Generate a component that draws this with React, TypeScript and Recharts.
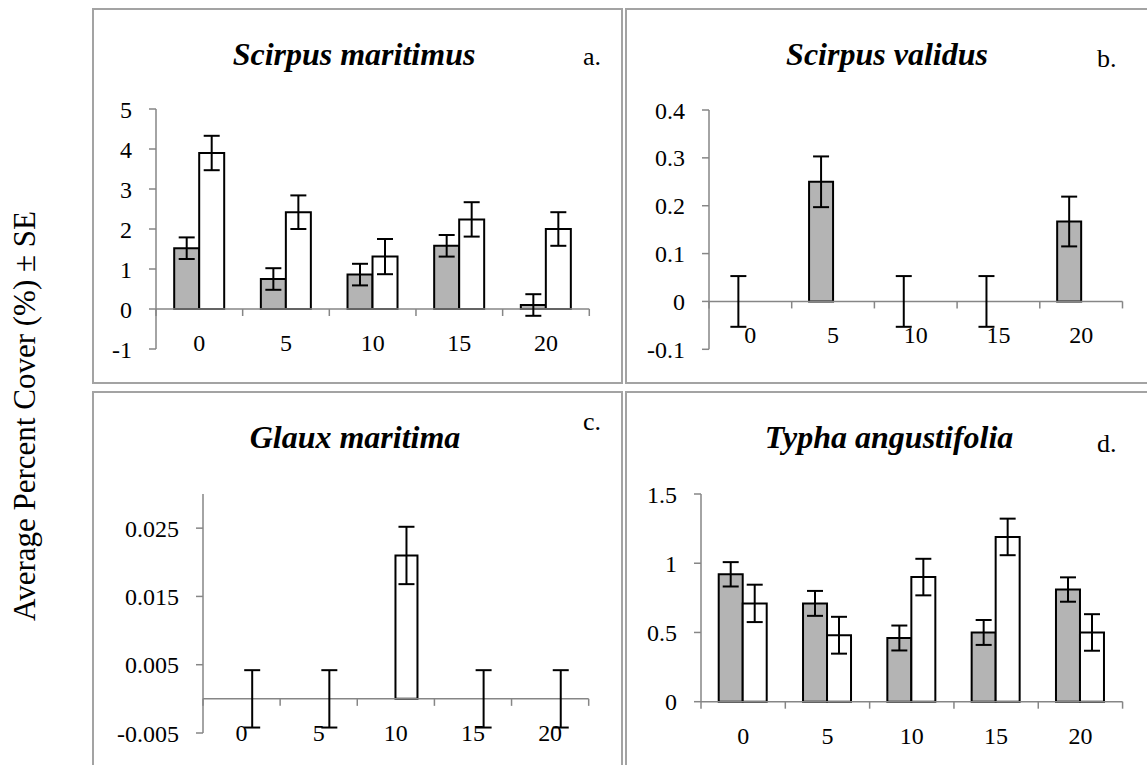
import { BarChart, Bar, XAxis, YAxis, ErrorBar, ReferenceLine, Rectangle } from 'recharts';

// distance classes shared by all four panels
const distances = ['0', '5', '10', '15', '20'];

// a. Scirpus maritimus
const maritimusGray = [1.52, 0.75, 0.86, 1.58, 0.1];
const maritimusGraySE = [0.27, 0.27, 0.27, 0.27, 0.27];
const maritimusWhite = [3.9, 2.42, 1.31, 2.24, 2.0];
const maritimusWhiteSE = [0.43, 0.42, 0.44, 0.43, 0.42];
const maritimusTicks = [-1, 0, 1, 2, 3, 4, 5];

// b. Scirpus validus
const validusGray = [0, 0.25, 0, 0, 0.167];
const validusGraySE = [0.053, 0.053, 0.053, 0.053, 0.052];
const validusWhite = [0, 0, 0, 0, 0];
const validusWhiteSE = [0, 0, 0, 0, 0];
const validusTicks = [-0.1, 0, 0.1, 0.2, 0.3, 0.4];

// c. Glaux maritima
const glauxGray = [0, 0, 0, 0, 0];
const glauxGraySE = [0, 0, 0, 0, 0];
const glauxWhite = [0, 0, 0.021, 0, 0];
const glauxWhiteSE = [0.0042, 0.0042, 0.0042, 0.0042, 0.0042];
const glauxTicks = [-0.005, 0.005, 0.015, 0.025];

// d. Typha angustifolia
const typhaGray = [0.92, 0.71, 0.46, 0.5, 0.81];
const typhaGraySE = [0.088, 0.09, 0.09, 0.09, 0.088];
const typhaWhite = [0.71, 0.48, 0.9, 1.19, 0.5];
const typhaWhiteSE = [0.135, 0.133, 0.132, 0.132, 0.132];
const typhaTicks = [0, 0.5, 1, 1.5];

const FONT = "'Liberation Serif', 'Times New Roman', Times, serif";
const AXIS = '#868686';
const GRAY = '#b4b4b4';
const BORDER = '#a3a3a3';

const YW = 110;
const MT = 20;
const MR = 10;
const MB = 60;

const rowsOf = (gray: number[], graySE: number[], white: number[], whiteSE: number[]) =>
  distances.map((d, i) => ({ d, gray: gray[i], grayErr: graySE[i], white: white[i], whiteErr: whiteSE[i] }));

interface Box {
  left: number;
  top: number;
  width: number;
  height: number;
}

interface PanelProps {
  rows: ReturnType<typeof rowsOf>;
  ticks: number[];
  domain: [number, number];
  box: Box;
  grayCap: string;
  whiteCap: string;
}

const tickText = { fontFamily: FONT, fontSize: 24, fill: '#000' };

const renderYTick = (props: any) => {
  const { x, y, payload } = props;
  return (
    <text x={x} y={y} dy="0.36em" textAnchor="end" style={tickText}>
      {payload.value}
    </text>
  );
};

// zero bars are kept (minPointSize) so their error bars are drawn, but the rect itself is hidden
const barShape = (key: 'gray' | 'white') => (props: any) =>
  props.payload[key] === 0 ? <g /> : <Rectangle {...props} />;

function Panel({ rows, ticks, domain, box, grayCap, whiteCap }: PanelProps) {
  const [min, max] = domain;
  const catW = box.width / rows.length;

  // excel style category axis: sits on the zero line, tick marks between categories
  const renderXTick = (props: any) => {
    const { x, y, payload, index } = props;
    const zeroY = y - ((0 - min) / (max - min)) * box.height;
    return (
      <g>
        <line x1={x - catW / 2} y1={zeroY} x2={x - catW / 2} y2={zeroY + 7} stroke={AXIS} strokeWidth={1.5} />
        {index === rows.length - 1 && (
          <line x1={x + catW / 2} y1={zeroY} x2={x + catW / 2} y2={zeroY + 7} stroke={AXIS} strokeWidth={1.5} />
        )}
        <text x={x} y={zeroY + 42} textAnchor="middle" style={tickText}>
          {payload.value}
        </text>
      </g>
    );
  };

  return (
    <div style={{ position: 'absolute', left: box.left - YW, top: box.top - MT, fontFamily: FONT }}>
      <BarChart
        width={YW + box.width + MR}
        height={MT + box.height + 1 + MB}
        data={rows}
        margin={{ top: MT, right: MR, bottom: MB, left: 0 }}
        barCategoryGap="21%"
        barGap={0}
      >
        <YAxis
          type="number"
          domain={domain}
          ticks={ticks}
          interval={0}
          width={YW}
          axisLine={{ stroke: AXIS, strokeWidth: 1.5 }}
          tickLine={{ stroke: AXIS, strokeWidth: 1.5 }}
          tickSize={7}
          tickMargin={17}
          tick={renderYTick}
        />
        <XAxis
          dataKey="d"
          height={1}
          axisLine={false}
          tickLine={false}
          tickSize={0}
          tickMargin={0}
          interval={0}
          tick={renderXTick}
        />
        <ReferenceLine y={0} stroke={AXIS} strokeWidth={1.5} />
        <Bar
          dataKey="gray"
          fill={GRAY}
          stroke="#000"
          strokeWidth={2}
          minPointSize={1}
          shape={barShape('gray')}
          isAnimationActive={false}
        >
          <ErrorBar dataKey="grayErr" width={8} stroke={grayCap} strokeWidth={2} isAnimationActive={false} />
        </Bar>
        <Bar
          dataKey="white"
          fill="#fff"
          stroke="#000"
          strokeWidth={2}
          minPointSize={1}
          shape={barShape('white')}
          isAnimationActive={false}
        >
          <ErrorBar dataKey="whiteErr" width={8} stroke={whiteCap} strokeWidth={2} isAnimationActive={false} />
        </Bar>
      </BarChart>
    </div>
  );
}

const titleStyle = { fontFamily: FONT, fontSize: 32, fontWeight: 700, fontStyle: 'italic' as const };
const letterStyle = { fontFamily: FONT, fontSize: 26 };

export default function App() {
  return (
    <div style={{ position: 'absolute', left: 0, top: 0, width: 1147, height: 765, overflow: 'hidden', background: '#fff' }}>
      <svg width={1147} height={765} style={{ position: 'absolute', left: 0, top: 0 }}>
        <rect x={93} y={9} width={529} height={374} fill="none" stroke={BORDER} strokeWidth={2} />
        <rect x={626} y={9} width={530} height={374} fill="none" stroke={BORDER} strokeWidth={2} />
        <rect x={93} y={392} width={529} height={400} fill="none" stroke={BORDER} strokeWidth={2} />
        <rect x={626} y={392} width={530} height={400} fill="none" stroke={BORDER} strokeWidth={2} />

        <text x={354} y={65} textAnchor="middle" style={titleStyle}>Scirpus maritimus</text>
        <text x={887} y={65} textAnchor="middle" style={titleStyle}>Scirpus validus</text>
        <text x={355} y={448} textAnchor="middle" style={titleStyle}>Glaux maritima</text>
        <text x={889} y={448} textAnchor="middle" style={titleStyle}>Typha angustifolia</text>

        <text x={583} y={65} style={letterStyle}>a.</text>
        <text x={1097} y={67} style={letterStyle}>b.</text>
        <text x={583} y={430} style={letterStyle}>c.</text>
        <text x={1097} y={452} style={letterStyle}>d.</text>

        <text
          x={0}
          y={0}
          transform="translate(35 416) rotate(-90)"
          textAnchor="middle"
          style={{ fontFamily: FONT, fontSize: 31 }}
        >
          Average Percent Cover (%) ± SE
        </text>
      </svg>

      <Panel
        rows={rowsOf(maritimusGray, maritimusGraySE, maritimusWhite, maritimusWhiteSE)}
        ticks={maritimusTicks}
        domain={[-1, 5]}
        box={{ left: 156, top: 109.3, width: 433.3, height: 240 }}
        grayCap="#000"
        whiteCap="#000"
      />
      <Panel
        rows={rowsOf(validusGray, validusGraySE, validusWhite, validusWhiteSE)}
        ticks={validusTicks}
        domain={[-0.1, 0.4]}
        box={{ left: 708.8, top: 110, width: 413.5, height: 239.3 }}
        grayCap="#000"
        whiteCap="#7a7a7a"
      />
      <Panel
        rows={rowsOf(glauxGray, glauxGraySE, glauxWhite, glauxWhiteSE)}
        ticks={glauxTicks}
        domain={[-0.005, 0.03]}
        box={{ left: 203.3, top: 494.3, width: 385.7, height: 239 }}
        grayCap="#7a7a7a"
        whiteCap="#000"
      />
      <Panel
        rows={rowsOf(typhaGray, typhaGraySE, typhaWhite, typhaWhiteSE)}
        ticks={typhaTicks}
        domain={[0, 1.5]}
        box={{ left: 700.7, top: 494, width: 421.6, height: 207.7 }}
        grayCap="#000"
        whiteCap="#000"
      />
    </div>
  );
}
